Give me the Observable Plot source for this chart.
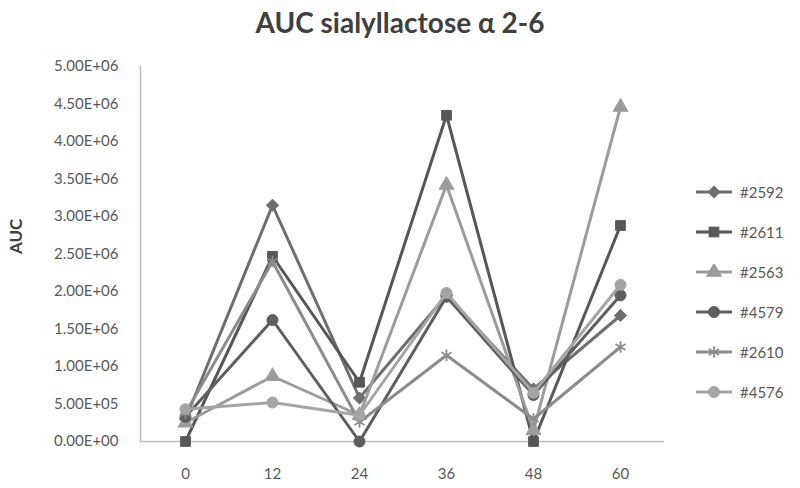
<!DOCTYPE html>
<html>
<head>
<meta charset="utf-8">
<script src="https://cdn.jsdelivr.net/npm/d3@7"></script>
<script src="https://cdn.jsdelivr.net/npm/@observablehq/plot@0.6"></script>
<style>
  html, body { margin: 0; padding: 0; background: #fff; }
  body { width: 800px; height: 488px; position: relative; overflow: hidden; font-family: Lato, "Open Sans", sans-serif; }
  #title { height: 50px; line-height: 44px; text-align: center; font-size: 28px; font-weight: bold; color: #404040; padding-left: 0px; }
  #legend { position: absolute; left: 694px; top: 172px; }
  .item { display: flex; align-items: center; height: 40px; font-size: 15px; color: #595959; }
  .item svg { margin-right: 6px; }
</style>
</head>
<body>
<div id="title">AUC sialyllactose α 2-6</div>
<div id="chart"></div>
<div id="legend"></div>
<script>
const hours = [0, 12, 24, 36, 48, 60];
const seriesNames = ["#2592", "#2611", "#2563", "#4579", "#2610", "#4576"];
const s2592 = [0.30e6, 3.15e6, 0.58e6, 1.95e6, 0.70e6, 1.68e6];
const s2611 = [0, 2.47e6, 0.79e6, 4.35e6, 0, 2.88e6];
const s2563 = [0.25e6, 0.87e6, 0.35e6, 3.42e6, 0.15e6, 4.46e6];
const s4579 = [0.33e6, 1.62e6, 0, 1.93e6, 0.62e6, 1.95e6];
const s2610 = [0.38e6, 2.40e6, 0.26e6, 1.15e6, 0.30e6, 1.26e6];
const s4576 = [0.43e6, 0.52e6, 0.35e6, 1.98e6, 0.65e6, 2.09e6];
const yTicks = [0, 5e5, 1e6, 1.5e6, 2e6, 2.5e6, 3e6, 3.5e6, 4e6, 4.5e6, 5e6];

const seriesValues = [s2592, s2611, s2563, s4579, s2610, s4576];
const colors = ["#6e6e6e", "#575757", "#9c9c9c", "#5e5e5e", "#8c8c8c", "#a4a4a4"];
const symbols = ["diamond2", "square", "triangle", "circle", "asterisk", "circle"];
const sizes = [5.5, 5.5, 5.5, 5.5, 5.5, 5.5];

const data = [];
seriesNames.forEach((name, i) => {
  seriesValues[i].forEach((v, j) => data.push({series: name, hour: hours[j], value: v, idx: i}));
});

const fmt = v => {
  const [m, e] = v.toExponential(2).split("e");
  const sign = e[0] === "-" ? "-" : "+";
  const ex = e.replace(/^[+-]/, "").padStart(2, "0");
  return `${m}E${sign}${ex}`;
};

const marks = [];
seriesNames.forEach((name, i) => {
  const d = data.filter(r => r.series === name);
  marks.push(Plot.line(d, {x: "hour", y: "value", stroke: colors[i], strokeWidth: 3}));
  const isStroke = symbols[i] === "asterisk";
  marks.push(Plot.dot(d, {
    x: "hour", y: "value", symbol: () => symbols[i], r: sizes[i],
    fill: isStroke ? "none" : colors[i],
    stroke: colors[i], strokeWidth: isStroke ? 1.8 : 1
  }));
});

const chart = Plot.plot({
  width: 800,
  height: 438,
  marginLeft: 140,
  marginRight: 136,
  marginTop: 16,
  marginBottom: 47,
  style: {fontFamily: "Lato, 'Open Sans', sans-serif", fontSize: "15px", color: "#595959", background: "#fff"},
  symbol: {type: "identity"},
  x: {type: "point", domain: hours, padding: 0.5, label: null},
  y: {domain: [0, 5e6], label: null},
  marks: [
    Plot.axisY({ticks: yTicks, tickFormat: fmt, tickSize: 0, tickPadding: 22, fontSize: 15, fill: "#595959"}),
    Plot.axisX({tickSize: 0, tickPadding: 27, fontSize: 15, fill: "#595959"}),
    Plot.frame({anchor: "left", stroke: "#bdbdbd", strokeWidth: 1.5}),
    Plot.ruleY([0], {stroke: "#bdbdbd", strokeWidth: 1.5}),
    Plot.text(["AUC"], {frameAnchor: "left", dx: -124, rotate: -90, fontSize: 17, fontWeight: "bold", fill: "#404040"}),
    ...marks
  ]
});
document.getElementById("chart").appendChild(chart);

// legend
const legend = document.getElementById("legend");
const symGen = {
  "diamond2": d3.symbolDiamond2, "square": d3.symbolSquare, "triangle": d3.symbolTriangle,
  "circle": d3.symbolCircle, "asterisk": d3.symbolAsterisk
};
seriesNames.forEach((name, i) => {
  const item = document.createElement("div");
  item.className = "item";
  const svg = d3.create("svg").attr("width", 40).attr("height", 16);
  svg.append("line").attr("x1", 2).attr("x2", 38).attr("y1", 8).attr("y2", 8)
    .attr("stroke", colors[i]).attr("stroke-width", 3);
  const isStroke = symbols[i] === "asterisk";
  svg.append("path").attr("transform", "translate(20,8)")
    .attr("d", d3.symbol(symGen[symbols[i]], Math.PI * sizes[i] * sizes[i])())
    .attr("fill", isStroke ? "none" : colors[i]).attr("stroke", colors[i])
    .attr("stroke-width", isStroke ? 1.8 : 1);
  item.appendChild(svg.node());
  const t = document.createElement("span");
  t.textContent = name;
  item.appendChild(t);
  legend.appendChild(item);
});
</script>
</body>
</html>
